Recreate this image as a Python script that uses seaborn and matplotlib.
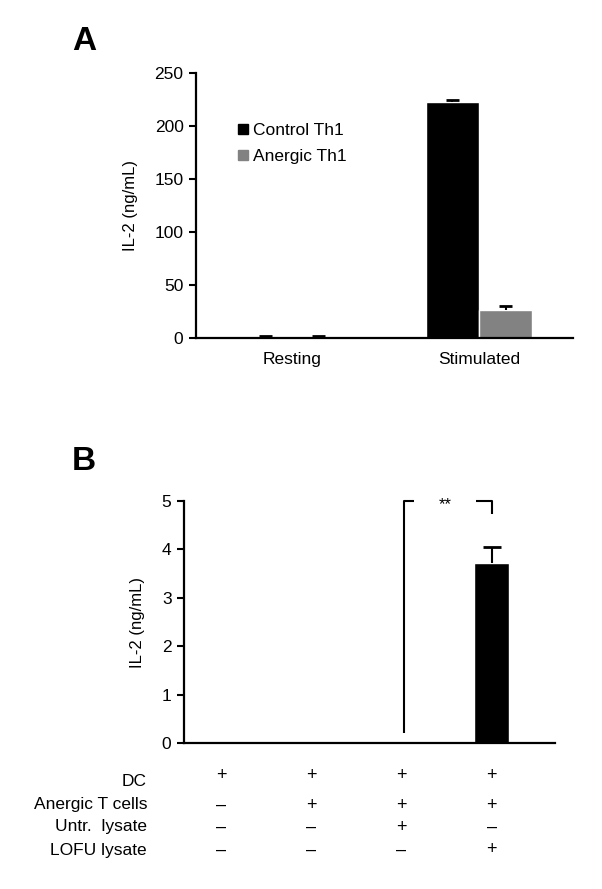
import matplotlib
matplotlib.use("Agg")
import matplotlib.pyplot as plt
import matplotlib.transforms as mtransforms
from matplotlib.lines import Line2D
import numpy as np
import pandas as pd
import seaborn as sns

# panel A data
conditions_a = ["Resting", "Stimulated"]
groups_a = ["Control Th1", "Anergic Th1"]
control_vals = [1.0, 222.5]
control_err = [1.0, 2.0]
anergic_vals = [1.0, 26.5]
anergic_err = [1.0, 3.5]

# panel B data
il2_b = [0.01, 0.01, 0.01, 3.72]
il2_b_err = [0.0, 0.0, 0.0, 0.33]
row_names = ["DC", "Anergic T cells", "Untr.  lysate", "LOFU lysate"]
row_signs = [["+", "+", "+", "+"],
             ["\u2013", "+", "+", "+"],
             ["\u2013", "\u2013", "+", "\u2013"],
             ["\u2013", "\u2013", "\u2013", "+"]]

sns.set_theme(style="white")
plt.rcParams["font.family"] = ["Liberation Sans", "DejaVu Sans"]
plt.rcParams["text.color"] = "black"
plt.rcParams["xtick.color"] = "black"
plt.rcParams["ytick.color"] = "black"
plt.rcParams["axes.labelcolor"] = "black"

W, H = 602, 889
fig = plt.figure(figsize=(W / 100, H / 100), dpi=100)

def box(l, t, r, b):
    return [l / W, 1 - b / H, (r - l) / W, (b - t) / H]

def style_axes(ax):
    sns.despine(ax=ax)
    for s in ["left", "bottom"]:
        ax.spines[s].set_linewidth(1.6)
        ax.spines[s].set_color("black")
    ax.tick_params(axis="y", which="major", direction="out", length=5, width=1.5,
                   color="black", labelsize=12.5, left=True, pad=4)
    ax.tick_params(axis="x", length=0, labelsize=12.5, pad=10)

def up_err(ax, x, v, e, half):
    # upward-only error bar with a cap on top
    ax.vlines(x, v, v + e, color="black", lw=1.5)
    ax.hlines(v + e, x - half, x + half, color="black", lw=2)

# ---------- panel A ----------
ax1 = fig.add_axes(box(196, 73, 573, 338))
df_a = pd.DataFrame({
    "cond": conditions_a * 2,
    "group": [groups_a[0]] * 2 + [groups_a[1]] * 2,
    "val": control_vals + anergic_vals,
})
colors_a = {"Control Th1": "black", "Anergic Th1": "#828282"}
sns.barplot(data=df_a, x="cond", y="val", hue="group", palette=colors_a,
            width=0.57, gap=0, errorbar=None, legend=False, ax=ax1,
            saturation=1)
errs_a = control_err + anergic_err
vals_a = control_vals + anergic_vals
for p, v, e in zip(ax1.patches, vals_a, errs_a):
    xc = p.get_x() + p.get_width() / 2
    up_err(ax1, xc, v, e, 0.035)
ax1.set_ylim(0, 250)
ax1.set_xlim(-0.513, 1.503)
ax1.set_yticks(range(0, 251, 50))
ax1.set_xlabel("")
ax1.set_ylabel("IL-2 (ng/mL)", fontsize=12, labelpad=12)
style_axes(ax1)
handles = [Line2D([], [], marker="s", linestyle="none", markersize=7,
                  color=colors_a[g]) for g in groups_a]
ax1.legend(handles, groups_a, loc="upper left", bbox_to_anchor=(0.06, 0.87),
           frameon=False, fontsize=12.5, handletextpad=0.1, labelspacing=0.6,
           handlelength=1.0)

fig.text(72 / W, 1 - 42 / H, "A", fontsize=24, fontweight="bold", va="center")

# ---------- panel B ----------
ax2 = fig.add_axes(box(184, 501, 555, 743))
df_b = pd.DataFrame({"x": [0, 1, 2, 3], "val": il2_b})
sns.barplot(data=df_b, x="x", y="val", color="black", width=0.39,
            errorbar=None, ax=ax2, saturation=1)
for p, v, e in zip(ax2.patches, il2_b, il2_b_err):
    if e > 0:
        xc = p.get_x() + p.get_width() / 2
        up_err(ax2, xc, v, e, 0.1)
ax2.set_ylim(0, 5)
ax2.set_xlim(-0.41, 3.7)
ax2.set_yticks(range(0, 6))
ax2.set_xticks([])
ax2.set_xlabel("")
ax2.set_ylabel("IL-2 (ng/mL)", fontsize=12, labelpad=12)
style_axes(ax2)

# significance bracket
lw = 1.5
ax2.plot([2.03, 2.03, 2.14], [0.2, 5.0, 5.0], color="black", lw=lw,
         clip_on=False, solid_capstyle="butt")
ax2.plot([2.82, 3.0, 3.0], [5.0, 5.0, 4.73], color="black", lw=lw,
         clip_on=False, solid_capstyle="butt")
ax2.text(2.48, 4.92, "**", ha="center", va="center", fontsize=12)

# condition table under panel B
tr = mtransforms.blended_transform_factory(ax2.transData, fig.transFigure)
row_y = [782, 805, 827, 850]
sign_y = [775, 805, 827, 850]
for name, signs, yt, ys in zip(row_names, row_signs, row_y, sign_y):
    fig.text(147 / W, 1 - yt / H, name, ha="right", va="center", fontsize=12.5)
    for i, s in enumerate(signs):
        ax2.text(i, 1 - ys / H, s, transform=tr, ha="center", va="center",
                 fontsize=13)

fig.text(72 / W, 1 - 462 / H, "B", fontsize=24, fontweight="bold", va="center")

fig.savefig("out.png", dpi=100, facecolor="white")
